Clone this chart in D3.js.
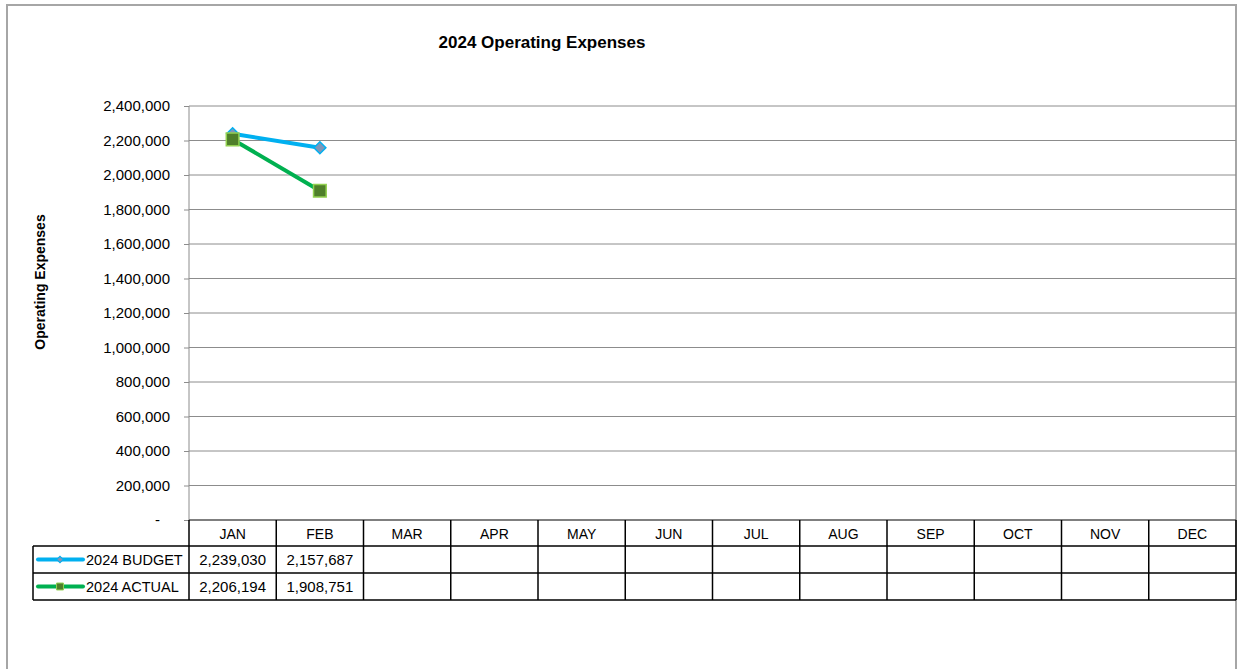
<!DOCTYPE html>
<html>
<head>
<meta charset="utf-8">
<script src="https://cdn.jsdelivr.net/npm/d3@7"></script>
<style>
body { margin: 0; background: #fff; }
text { font-family: "Liberation Sans Narrow", "Arial Narrow", "Liberation Sans", sans-serif; fill: #000; }
</style>
</head>
<body>
<div id="chart"></div>
<script>
var months = ["JAN", "FEB", "MAR", "APR", "MAY", "JUN", "JUL", "AUG", "SEP", "OCT", "NOV", "DEC"];
var budget = [2239030, 2157687];
var actual = [2206194, 1908751];
var seriesNames = ["2024 BUDGET", "2024 ACTUAL"];
var yTicks = [0, 200000, 400000, 600000, 800000, 1000000, 1200000, 1400000, 1600000, 1800000, 2000000, 2200000, 2400000];

var svg = d3.select("#chart").append("svg")
    .attr("width", 1238)
    .attr("height", 669);

// outer chart border
svg.append("rect")
    .attr("x", 7).attr("y", 5)
    .attr("width", 1229).attr("height", 700)
    .attr("fill", "none")
    .attr("stroke", "#a6a6a6")
    .attr("stroke-width", 2);

var x = d3.scaleBand().domain(months).range([189, 1236]);
var y = d3.scaleLinear().domain([0, 2400000]).range([520, 106]);

// gridlines
svg.append("g").selectAll("line")
    .data(yTicks.filter(function(d) { return d > 0; }))
    .enter().append("line")
    .attr("x1", 189).attr("x2", 1236)
    .attr("y1", function(d) { return y(d); })
    .attr("y2", function(d) { return y(d); })
    .attr("stroke", "#8c8c8c")
    .attr("stroke-width", 1);

// y axis
var fmt = d3.format(",");
var yAxis = svg.append("g")
    .attr("transform", "translate(189,0)")
    .call(d3.axisLeft(y).tickValues(yTicks).tickSize(5).tickPadding(14)
        .tickFormat(function(d) { return d === 0 ? "-" : fmt(d); }));
yAxis.select(".domain").attr("stroke", "#8c8c8c").attr("d", "M0,520V106");
yAxis.selectAll(".tick line").attr("stroke", "#8c8c8c");
yAxis.selectAll(".tick text")
    .attr("fill", "#000")
    .style("font-size", "15px")
    .attr("dx", function(d) { return d === 0 ? -10 : 0; });

svg.append("text")
    .attr("transform", "translate(45,282) rotate(-90)")
    .attr("text-anchor", "middle")
    .style("font-size", "14px")
    .style("font-weight", "bold")
    .text("Operating Expenses");

svg.append("text")
    .attr("x", 542).attr("y", 48)
    .attr("text-anchor", "middle")
    .style("font-size", "17px")
    .style("font-weight", "bold")
    .text("2024 Operating Expenses");

// data table
var rowTop = [520, 546, 573, 600];
var table = svg.append("g");
table.selectAll("text.month")
    .data(months).enter().append("text")
    .attr("class", "month")
    .attr("x", function(d) { return x(d) + x.bandwidth() / 2; })
    .attr("y", 539)
    .attr("text-anchor", "middle")
    .style("font-size", "14px")
    .text(function(d) { return d; });

[budget, actual].forEach(function(vals, i) {
    table.selectAll("text.v" + i)
        .data(vals).enter().append("text")
        .attr("x", function(d, j) { return x(months[j]) + x.bandwidth() / 2; })
        .attr("y", rowTop[i + 1] + 19)
        .attr("text-anchor", "middle")
        .style("font-size", "15px")
        .text(function(d) { return fmt(d); });
});

// table grid
table.append("line").attr("x1", 189).attr("x2", 1236).attr("y1", 520).attr("y2", 520)
    .attr("stroke", "#555").attr("stroke-width", 1.5);
[546, 573, 600].forEach(function(yy) {
    table.append("line").attr("x1", 33).attr("x2", 1236).attr("y1", yy).attr("y2", yy)
        .attr("stroke", "#000").attr("stroke-width", 1.5);
});
table.selectAll("line.col")
    .data(months.concat(["end"])).enter().append("line")
    .attr("class", "col")
    .attr("x1", function(d, i) { return 189 + i * x.bandwidth(); })
    .attr("x2", function(d, i) { return 189 + i * x.bandwidth(); })
    .attr("y1", 520).attr("y2", 600)
    .attr("stroke", "#000").attr("stroke-width", 1.5);
table.append("line").attr("x1", 33).attr("x2", 33).attr("y1", 546).attr("y2", 600)
    .attr("stroke", "#000").attr("stroke-width", 1.5);

// series
var series = [
    { name: seriesNames[0], values: budget, line: "#00b0f0", fill: "#7f96b8", stroke: "#00b0f0", rot: 45, size: 72 },
    { name: seriesNames[1], values: actual, line: "#00b050", fill: "#4f7f2a", stroke: "#92d050", rot: 0, size: 160 }
];

var line = d3.line()
    .x(function(d, i) { return x(months[i]) + x.bandwidth() / 2; })
    .y(function(d) { return y(d); });

series.forEach(function(s, i) {
    svg.append("path")
        .attr("d", line(s.values))
        .attr("fill", "none")
        .attr("stroke", s.line)
        .attr("stroke-width", 4);
    svg.selectAll("path.m" + i)
        .data(s.values).enter().append("path")
        .attr("class", "m" + i)
        .attr("d", d3.symbol().type(d3.symbolSquare).size(s.size))
        .attr("transform", function(d, j) {
            return "translate(" + (x(months[j]) + x.bandwidth() / 2) + "," + y(d) + ") rotate(" + s.rot + ")";
        })
        .attr("fill", s.fill)
        .attr("stroke", s.stroke)
        .attr("stroke-width", 1.5);

    // legend key in table
    var ly = (rowTop[i + 1] + rowTop[i + 2]) / 2;
    svg.append("line")
        .attr("x1", 38).attr("x2", 83).attr("y1", ly).attr("y2", ly)
        .attr("stroke", s.line).attr("stroke-width", 4)
        .attr("stroke-linecap", "round");
    svg.append("path")
        .attr("d", d3.symbol().type(d3.symbolSquare).size(s.size * 0.3))
        .attr("transform", "translate(60," + ly + ") rotate(" + s.rot + ")")
        .attr("fill", s.fill)
        .attr("stroke", s.stroke)
        .attr("stroke-width", 1);
    svg.append("text")
        .attr("x", 86).attr("y", ly + 5)
        .style("font-size", "14.5px")
        .text(s.name);
});
</script>
</body>
</html>
